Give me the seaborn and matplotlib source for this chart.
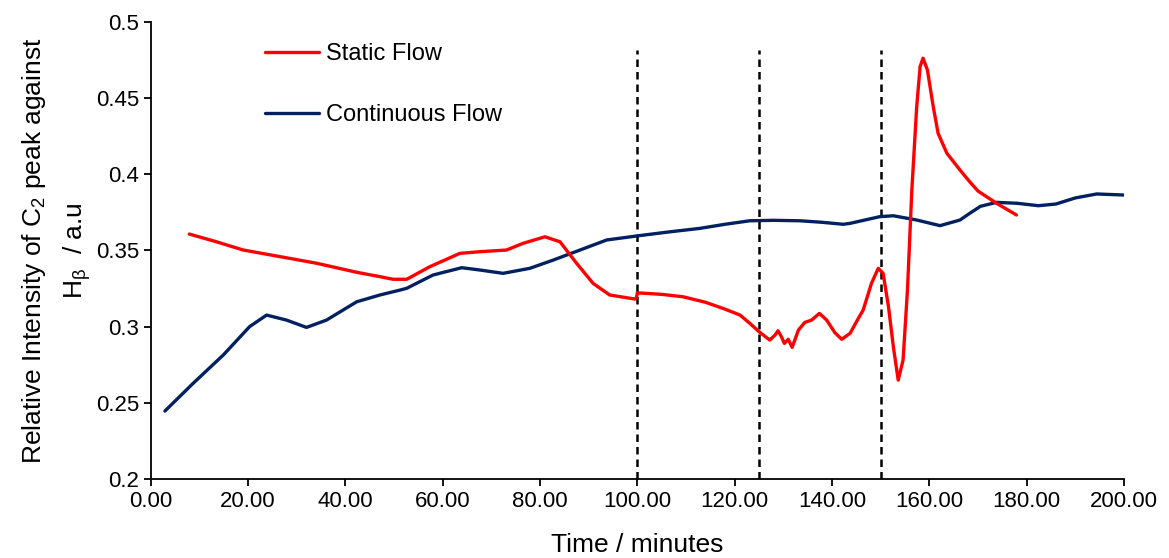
import matplotlib
matplotlib.use("Agg")
import matplotlib.pyplot as plt
import seaborn as sns
import pandas as pd

# ---- data ----
static_time = [7.9, 13.5, 19.0, 25.8, 34.1, 42.3, 47.1, 49.8, 52.6, 57.3, 63.5, 67.6, 73.1,
               76.5, 81.0, 84.1, 87.5, 90.9, 94.3, 99.5, 99.8,
               100.0, 105.0, 109.4, 114.0, 118.0, 121.1, 123.1, 125.0, 127.2, 128.3, 128.9,
               129.6, 130.2, 131.0, 131.8, 133.1, 134.4, 135.8, 137.4, 138.9, 140.6, 142.0,
               143.7, 145.4, 146.4, 148.1, 149.5, 150.5, 151.6, 152.6, 153.6, 154.6, 155.5,
               156.4, 157.4, 158.1, 158.7, 159.6, 160.8, 161.8, 163.6, 166.3, 168.3, 170.0,
               173.8, 177.9]
static_val = [0.3608, 0.3557, 0.3503, 0.3464, 0.3416, 0.3357, 0.3328, 0.3311, 0.3311, 0.3393,
              0.3481, 0.3492, 0.3503, 0.3547, 0.3590, 0.3557, 0.3416, 0.3284, 0.3208, 0.3181,
              0.3190,
              0.3222, 0.3212, 0.3196, 0.3160, 0.3115, 0.3076, 0.3022, 0.2967, 0.2912, 0.2945,
              0.2973, 0.2934, 0.2890, 0.2917, 0.2864, 0.2978, 0.3028, 0.3043, 0.3087, 0.3043,
              0.2960, 0.2917, 0.2956, 0.3054, 0.3109, 0.3284, 0.3383, 0.3350, 0.3131, 0.2868,
              0.2649, 0.2781, 0.3240, 0.3897, 0.4444, 0.4707, 0.4762, 0.4685, 0.4444, 0.4269,
              0.4138, 0.4028, 0.3951, 0.3890, 0.3810, 0.3733]

cont_time = [2.9, 8.7, 14.9, 20.3, 23.8, 27.9, 32.0, 36.1, 42.3, 47.1, 51.2, 52.6, 58.0,
             63.9, 67.6, 72.4, 77.9, 82.7, 88.2, 93.7, 99.8, 106.0, 112.8, 118.0, 123.1,
             128.0, 133.4, 138.0, 142.3, 143.7, 149.8, 152.6, 157.4, 162.2, 166.3, 168.3,
             170.5, 173.8, 178.0, 182.4, 186.0, 190.0, 194.4, 200.0]
cont_val = [0.2446, 0.2628, 0.2814, 0.3000, 0.3076, 0.3043, 0.2995, 0.3043, 0.3163, 0.3208,
            0.3240, 0.3252, 0.3339, 0.3387, 0.3372, 0.3350, 0.3383, 0.3437, 0.3503, 0.3569,
            0.3595, 0.3620, 0.3645, 0.3672, 0.3695, 0.3698, 0.3695, 0.3685, 0.3672, 0.3678,
            0.3722, 0.3728, 0.3700, 0.3663, 0.3700, 0.3744, 0.3790, 0.3816, 0.3810, 0.3794,
            0.3805, 0.3845, 0.3871, 0.3864]

marker_times = [100, 125, 150]
x_ticks = [0, 20, 40, 60, 80, 100, 120, 140, 160, 180, 200]
y_ticks = [0.2, 0.25, 0.3, 0.35, 0.4, 0.45, 0.5]
y_ticklabels = ["0.2", "0.25", "0.3", "0.35", "0.4", "0.45", "0.5"]

static_df = pd.DataFrame({"time": static_time, "value": static_val})
cont_df = pd.DataFrame({"time": cont_time, "value": cont_val})

sns.set_theme(style="ticks")
plt.rcParams["font.family"] = ["Liberation Sans", "DejaVu Sans"]
plt.rcParams["mathtext.fontset"] = "custom"
plt.rcParams["mathtext.rm"] = "Liberation Sans"
plt.rcParams["mathtext.it"] = "Liberation Sans:italic"
plt.rcParams["mathtext.default"] = "regular"
plt.rcParams["text.color"] = "black"
plt.rcParams["axes.labelcolor"] = "black"
plt.rcParams["xtick.color"] = "black"
plt.rcParams["ytick.color"] = "black"

fig = plt.figure(figsize=(11.69, 5.58), dpi=100)
ax = fig.add_axes([0.129, 0.1416, 0.8325, 0.819])

for t in marker_times:
    ax.plot([t, t], [0.2, 0.4816], color="black", linestyle=(0, (3, 2)), linewidth=1.8, zorder=1)

sns.lineplot(data=static_df, x="time", y="value", ax=ax, color="#FF0000", linewidth=2.4,
             estimator=None, sort=False, label="Static Flow", zorder=3)
sns.lineplot(data=cont_df, x="time", y="value", ax=ax, color="#002060", linewidth=2.4,
             estimator=None, sort=False, label="Continuous Flow", zorder=2)

ax.set_xlim(0, 200)
ax.set_ylim(0.2, 0.5)
ax.set_xticks(x_ticks)
ax.set_xticklabels([f"{v:.2f}" for v in x_ticks])
ax.set_yticks(y_ticks)
ax.set_yticklabels(y_ticklabels)
ax.tick_params(axis="both", labelsize=16, length=5, width=1.3, color="black",
               labelcolor="black", direction="out")
for s in ["top", "right"]:
    ax.spines[s].set_visible(False)
for s in ["left", "bottom"]:
    ax.spines[s].set_color("black")
    ax.spines[s].set_linewidth(1.3)

ax.set_xlabel("Time / minutes", fontsize=19, labelpad=15)
ax.set_ylabel("Relative Intensity of C$_2$ peak against\nH$_\\beta$  / a.u", fontsize=19,
              labelpad=2, linespacing=1.6)

ax.legend(loc="upper left", bbox_to_anchor=(0.117, 0.953), frameon=False, fontsize=17,
          handlelength=2.3, handletextpad=0.3, labelspacing=1.65, borderpad=0, borderaxespad=0)

fig.savefig("out.png", dpi=100)
